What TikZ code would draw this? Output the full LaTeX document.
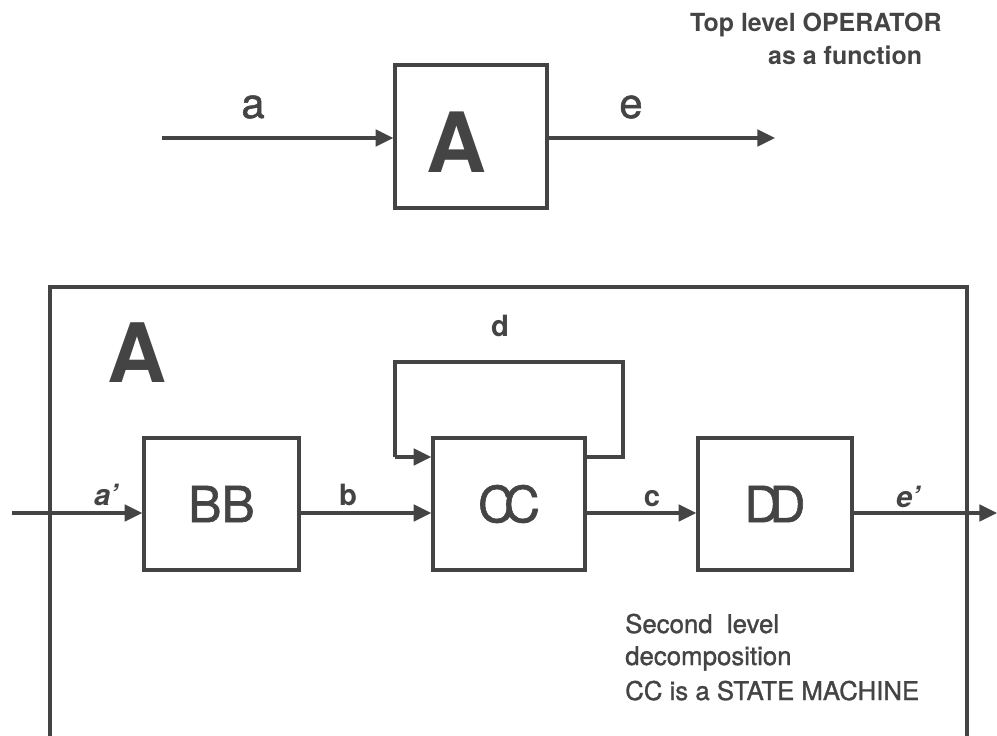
\documentclass[tikz,border=0pt]{standalone}
\usepackage{fontspec}
\setmainfont{TeX Gyre Heros}
\newfontfamily\medfont[FakeBold=1.2]{TeX Gyre Heros}
\usetikzlibrary{arrows.meta}
\definecolor{ink}{HTML}{444444}
\tikzset{
  wire/.style={draw=ink, line width=2.9pt},
  arr/.style={wire, -{Triangle[length=15pt,width=14pt]}},
  blk/.style={draw=ink, line width=2.9pt, fill=none, inner sep=0pt, text=ink},
  lbl/.style={text=ink, inner sep=0pt, anchor=base},
  small/.style={lbl, font=\bfseries\fontsize{25}{30}\selectfont},
  note/.style={text=ink, inner sep=0pt, anchor=base west},
  big/.style={text=ink, inner sep=0pt, font=\medfont\fontsize{42.5}{48}\selectfont},
}
\begin{document}
\begin{tikzpicture}[x=0.03cm, y=-0.03cm]
\useasboundingbox (0,0) rectangle (997,736);
% ---------- top level ----------
\node[blk, minimum width=4.56cm, minimum height=4.29cm] (topA) at (471,136.5) {};
\node[lbl, font=\bfseries\fontsize{71}{80}\selectfont] (topAlbl) at (457,173) {A};
\coordinate (aIn) at (162,138);
\coordinate (eOut) at (775,138);
\draw[arr] (aIn) -- (aIn -| topA.west);
\draw[arr] (eOut -| topA.east) -- (eOut);
\node[lbl, font=\medfont\fontsize{35.7}{40}\selectfont] (la) at (253,118) {a};
\node[lbl, font=\medfont\fontsize{35.7}{40}\selectfont] (le) at (631,118) {e};
\node[note, font=\bfseries\fontsize{21.3}{26}\selectfont] (t1) at (690,32) {Top level OPERATOR};
\node[note, font=\bfseries\fontsize{21.3}{26}\selectfont] (t2) at (768,65) {as a function};
% ---------- second level ----------
\node[blk, minimum width=27.51cm, minimum height=14.79cm] (Abig) at (508.5,533.5) {};
\node[lbl, font=\bfseries\fontsize{70}{80}\selectfont] (Abiglbl) at (137.5,382) {A};
\node[blk, big, minimum width=4.65cm, minimum height=3.96cm] (BB) at (221.5,504) {BB};
\node[blk, big, minimum width=4.56cm, minimum height=3.96cm] (CC) at (509,504) {C\kern-0.2em C};
\node[blk, big, minimum width=4.62cm, minimum height=3.96cm] (DD) at (775,504) {D\kern-0.22em D};
\coordinate (in) at (12,513);
\coordinate (out) at (997,513);
\draw[arr] (in) -- (in -| BB.west);
\draw[arr] (in -| BB.east) -- (in -| CC.west);
\draw[arr] (in -| CC.east) -- (in -| DD.west);
\draw[arr] (in -| DD.east) -- (out);
\coordinate (fb1) at (623,457);
\coordinate (fb2) at (623,362);
\coordinate (fb3) at (395,362);
\coordinate (fb4) at (395,457);
\draw[wire] (fb1 -| CC.east) -- (fb1) -- (fb2) -- (fb3) -- (fb4);
\draw[arr] (fb4) -- (fb4 -| CC.west);
\node[small] (la2) at (106,505) {\itshape a'};
\node[small] (lb) at (348,505) {b};
\node[small] (lc) at (652,506) {c};
\node[small] (le2) at (908,507) {\itshape e'};
\node[small] (ld) at (500,337) {d};
\node[note, font=\medfont\fontsize{22}{26}\selectfont] (n1) at (625,633) {Second\ \ level};
\node[note, font=\medfont\fontsize{22}{26}\selectfont] (n2) at (625,665) {decomposition};
\node[note, font=\medfont\fontsize{22}{26}\selectfont] (n3) at (625,700) {CC is a STATE MACHINE};
\end{tikzpicture}
\end{document}
